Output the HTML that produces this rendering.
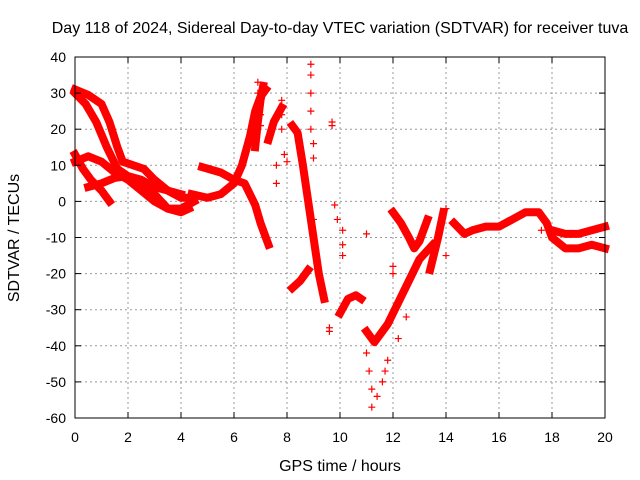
<!DOCTYPE html>
<html><head><meta charset="utf-8"><style>
body{margin:0;background:#fff}
svg{display:block;font-family:"Liberation Sans",sans-serif}
</style></head><body>
<svg id="c" width="640" height="480">
<text x="340" y="33" font-size="16" text-anchor="middle">Day 118 of 2024, Sidereal Day-to-day VTEC variation (SDTVAR) for receiver tuva</text>
<text x="340" y="471" font-size="16" text-anchor="middle">GPS time / hours</text>
<text transform="translate(19,238) rotate(-90)" font-size="16" text-anchor="middle">SDTVAR / TECUs</text>
<g id="grid"></g><g id="marks"></g><g id="axes"></g>
</svg>
<script>
const xTicks=[0,2,4,6,8,10,12,14,16,18,20];
const yTicks=[40,30,20,10,0,-10,-20,-30,-40,-50,-60];
const b1x=[0,0.5,1,1.3,1.6,1.8,2.2,2.6,3,3.5,4,4.4];
const b1y=[31,29.5,27,22,15,11,10,9,6,3,1,1];
const b2x=[0,0.4,0.8,1.2,1.6,2,2.5,3,3.5,4];
const b2y=[30,27,22,15,9,7,6,4,3,2];
const b3x=[0,0.3,0.6,1,1.3];
const b3y=[13,9,6,3,0];
const b4x=[0,0.5,1,1.5,2,2.5,3,3.5,4,4.5];
const b4y=[11,12.5,11,8,6,3,0,-2,-2,0];
const b5x=[0.5,1,1.5,2,2.5,3,3.5,4,4.3];
const b5y=[4,5,6.5,7,5,2,-2,-3,-2];
const b6x=[4.4,5,5.5,6,6.3,6.6,6.8,7,7.2];
const b6y=[2,1,2,5,10,18,25,29,31];
const b7x=[4.8,5.5,6,6.4,6.8,7,7.3];
const b7y=[9.5,8,6,5,-1,-6,-12];
const b8x=[6.8,6.9,7,7.1];
const b8y=[15,22,28,32];
const b9x=[7.3,7.5,7.8];
const b9y=[17,22,26];
const b10x=[8.2,8.4,8.6,8.8,9,9.2,9.4];
const b10y=[21,19,10,0,-10,-20,-27];
const b11x=[8.2,8.5,8.8];
const b11y=[-24,-22,-19];
const b12x=[10,10.3,10.6,10.8];
const b12y=[-31,-27,-26,-27];
const b13x=[11,11.3,11.5,11.8,12.2,12.6,13,13.5];
const b13y=[-36,-39,-37,-34,-28,-22,-16,-12];
const b14x=[12,12.3,12.6,12.8,13,13.3];
const b14y=[-3,-6,-10,-13,-11,-5];
const b15x=[13.4,13.7,13.9];
const b15y=[-19,-10,-3];
const b16x=[14.3,14.7,15,15.5,16,16.5,17,17.5,17.8,18,18.5,19,19.5,20];
const b16y=[-6,-9,-8,-7,-7,-5,-3,-3,-6,-10,-13,-13,-12,-13];
const b17x=[18,18.5,19,19.5,20];
const b17y=[-8,-9,-9,-8,-7];
const s1x=[6.9,6.9,6.9,7.0,7.0,7.8,7.8,7.8,7.6,7.6,7.9,8.0,8.9,8.9,8.9,8.9,8.9,9.0,9.0,9.0,9.7,9.7,9.8,9.9,10.1,10.1,10.1,9.6,9.6,11.0,11.1,11.2,11.2,11.4,11.6,11.7,11.8,12.5,12.2,14.0,14.0,12.0,12.0,13.1,16.3,17.6,11.0];
const s1y=[33,30,27,24,21,28,24,20,10,5,13,11,38,35,30,25,20,16,12,-5,22,21,-1,-5,-8,-12,-15,-35,-36,-42,-47,-52,-57,-54,-50,-47,-44,-32,-38,-2,-15,-20,-18,-9,-6,-8,-9];
const bandsX=[b1x,b2x,b3x,b4x,b5x,b6x,b7x,b8x,b9x,b10x,b11x,b12x,b13x,b14x,b15x,b16x,b17x];
const bandsY=[b1y,b2y,b3y,b4y,b5y,b6y,b7y,b8y,b9y,b10y,b11y,b12y,b13y,b14y,b15y,b16y,b17y];
const L=75,R=605,T=57,B=418;
const sx=v=>L+(v-0)/20*(R-L);
const sy=v=>T+(40-v)/100*(B-T);
const NS="http://www.w3.org/2000/svg";
function mk(tag,attrs,parent){const e=document.createElementNS(NS,tag);for(const k in attrs)e.setAttribute(k,attrs[k]);parent.appendChild(e);return e;}
const grid=document.getElementById('grid'),marks=document.getElementById('marks'),axes=document.getElementById('axes');
xTicks.forEach(t=>{const x=sx(t);
 if(t>0&&t<20){const g=mk('line',{x1:x,x2:x,y1:T,y2:B,stroke:'#999','stroke-dasharray':'2,3'},grid);
 
 }
 const tx=mk('text',{x:x,y:B+24,'font-size':14,'text-anchor':'middle'},axes);tx.textContent=t;
 
 
 mk('line',{x1:x,x2:x,y1:B,y2:B-6,stroke:'#000'},axes);mk('line',{x1:x,x2:x,y1:T,y2:T+6,stroke:'#000'},axes);});
yTicks.forEach(t=>{const y=sy(t);
 if(t<40&&t>-60){const g=mk('line',{x1:L,x2:R,y1:y,y2:y,stroke:'#999','stroke-dasharray':'2,3'},grid);
 
 }
 const tx=mk('text',{x:L-9,y:y+5,'font-size':14,'text-anchor':'end'},axes);tx.textContent=t;
 
 
 mk('line',{x1:L,x2:L+6,y1:y,y2:y,stroke:'#000'},axes);mk('line',{x1:R,x2:R-6,y1:y,y2:y,stroke:'#000'},axes);});
const fr=mk('rect',{x:L,y:T,width:R-L,height:B-T,fill:'none',stroke:'#000'},axes);


function plus(x,y){const p=mk('path',{d:`M${sx(x)-3.5},${sy(y)}h7M${sx(x)},${sy(y)-3.5}v7`,stroke:'#f00','stroke-width':1.2},marks);
 
 }
bandsX.forEach((xs,i)=>{const ys=bandsY[i];
 const pl=mk('polyline',{points:xs.map((x,j)=>sx(x)+','+sy(ys[j])).join(' '),fill:'none',stroke:'#f00','stroke-width':8,'stroke-linejoin':'round','stroke-linecap':'square'},marks);
 
 
 xs.forEach((x,j)=>plus(x,ys[j]));});
s1x.forEach((x,j)=>plus(x,s1y[j]));
</script>
</body></html>
